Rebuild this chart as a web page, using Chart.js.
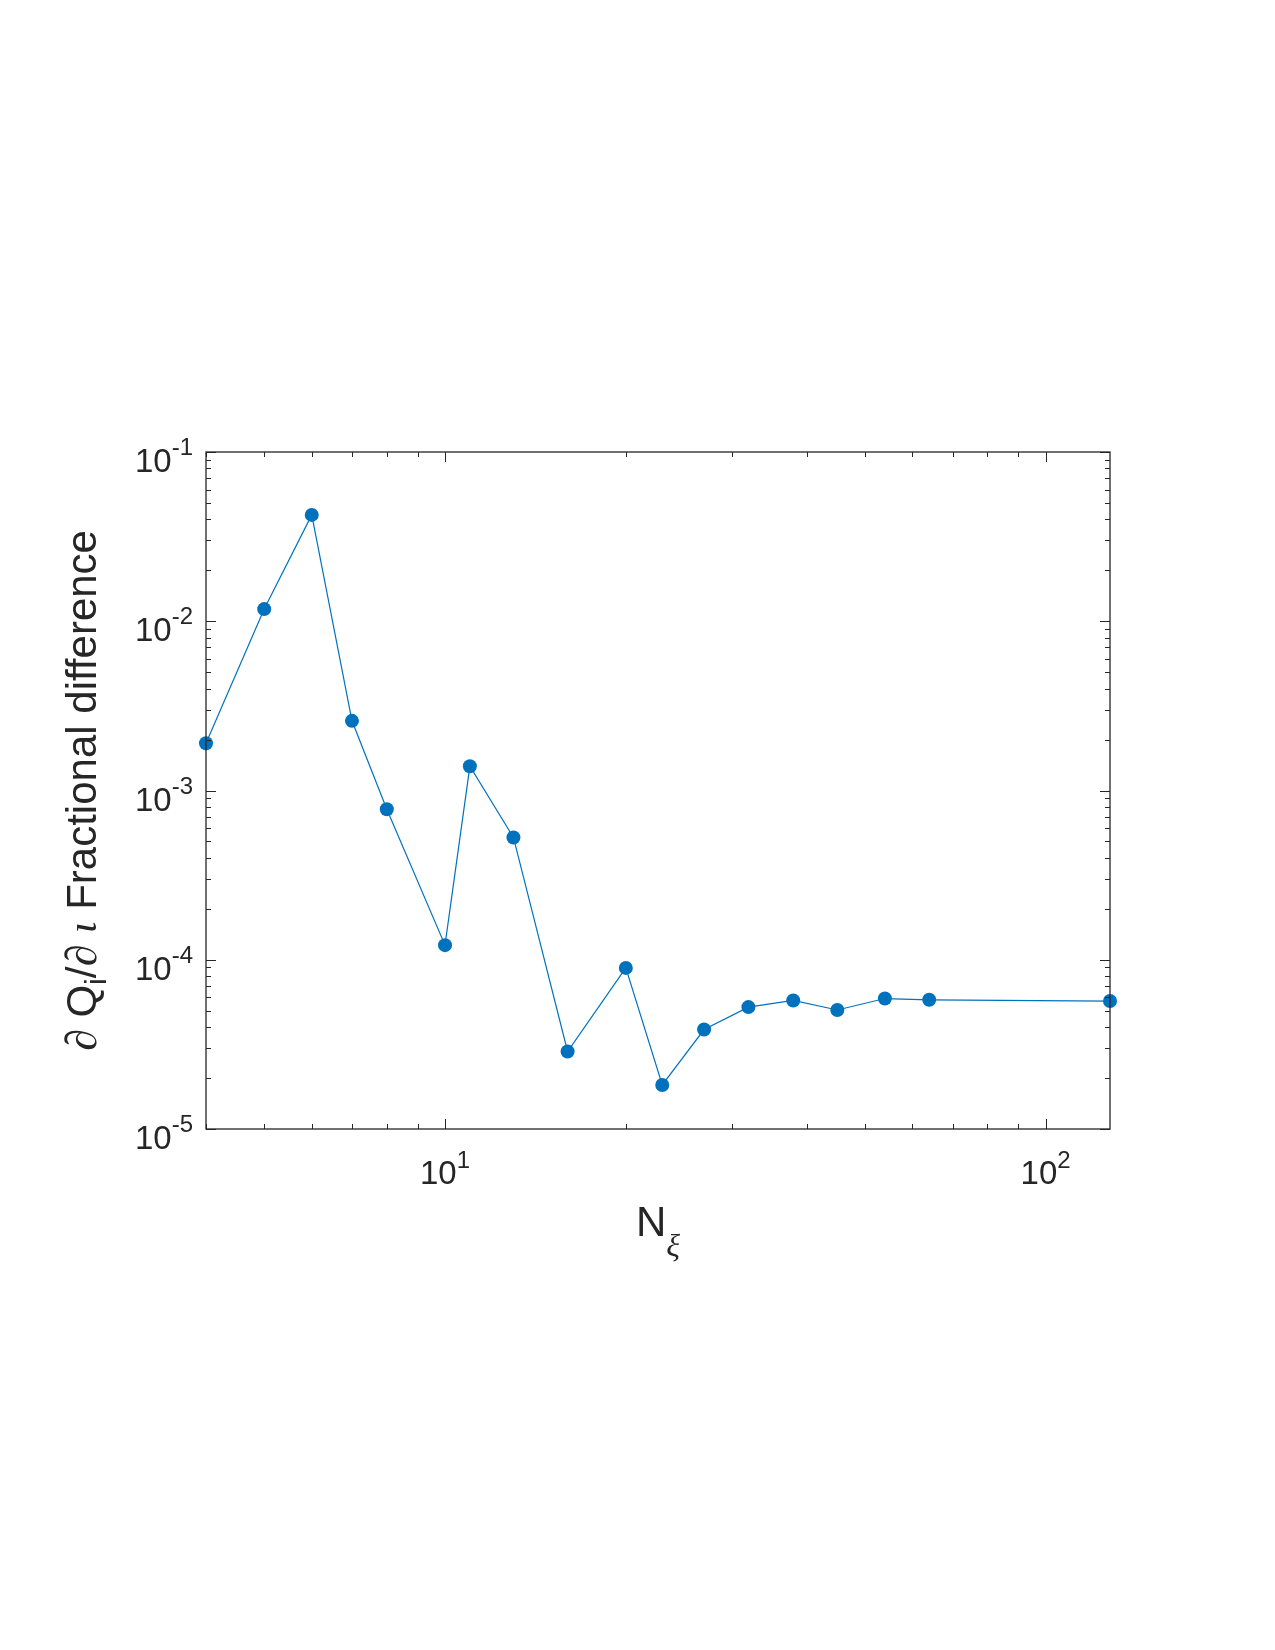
<!DOCTYPE html>
<html>
<head>
<meta charset="utf-8">
<script src="https://cdn.jsdelivr.net/npm/chart.js@4.4.1/dist/chart.umd.min.js"></script>
<style>
  html, body { margin: 0; padding: 0; background: #fff; }
  canvas { display: block; }
</style>
</head>
<body>
<canvas id="convChart" width="1275" height="1650"></canvas>
<script>
// number of xi grid points and the fractional difference in dQ/d(iota)
const nXi = [4, 5, 6, 7, 8, 10, 11, 13, 16, 20, 23, 27, 32, 38, 45, 54, 64, 128];
const fracDiff = [1.90e-3, 1.18e-2, 4.25e-2, 2.58e-3, 7.75e-4, 1.22e-4, 1.39e-3, 5.28e-4, 2.87e-5,
  8.95e-5, 1.82e-5, 3.87e-5, 5.25e-5, 5.75e-5, 5.05e-5, 5.9e-5, 5.8e-5, 5.7e-5];

const xRange = [4, 128];
const yRange = [1e-5, 1e-1];
const xTickExps = [1, 2];
const yTickExps = [-5, -4, -3, -2, -1];

const SANS = '"Liberation Sans", Arial, Helvetica, sans-serif';
const SERIF = '"Liberation Serif", "DejaVu Serif", serif';
const AXIS_COLOR = '#262626';

// log minor tick values between lo and hi
const logTicks = (lo, hi) => {
  const out = [];
  for (let d = Math.floor(Math.log10(lo)); d <= Math.ceil(Math.log10(hi)); d++) {
    for (let m = 1; m <= 9; m++) {
      const v = m * Math.pow(10, d);
      if (v >= lo * 0.9999 && v <= hi * 1.0001) out.push({ v, major: m === 1 });
    }
  }
  return out;
}

// draw a list of [text, font, dy] pieces starting at x, returns end x
const drawPieces = (ctx, pieces, x, y) => {
  pieces.forEach(p => {
    ctx.font = p[1];
    ctx.fillText(p[0], x, y + (p[2] || 0));
    x += ctx.measureText(p[0]).width;
  });
  return x;
}

const piecesWidth = (ctx, pieces) => {
  let w = 0;
  pieces.forEach(p => {
    ctx.font = p[1];
    w += ctx.measureText(p[0]).width;
  });
  return w;
}

const matlabAxes = {
  id: 'matlabAxes',
  afterDraw(chart) {
    const ctx = chart.ctx;
    const { left, right, top, bottom } = chart.chartArea;
    const xs = chart.scales.x;
    const ys = chart.scales.y;
    ctx.save();

    // ticks, inward on all four sides
    ctx.strokeStyle = AXIS_COLOR;
    ctx.lineWidth = 1;
    ctx.beginPath();
    logTicks(xRange[0], xRange[1]).forEach(t => {
      const px = Math.round(xs.getPixelForValue(t.v)) + 0.5;
      const len = t.major ? 10 : 5;
      ctx.moveTo(px, bottom); ctx.lineTo(px, bottom - len);
      ctx.moveTo(px, top); ctx.lineTo(px, top + len);
    });
    logTicks(yRange[0], yRange[1]).forEach(t => {
      const py = Math.round(ys.getPixelForValue(t.v)) + 0.5;
      const len = t.major ? 10 : 5;
      ctx.moveTo(left, py); ctx.lineTo(left + len, py);
      ctx.moveTo(right, py); ctx.lineTo(right - len, py);
    });
    ctx.stroke();

    // box
    ctx.lineWidth = 1.3;
    ctx.strokeRect(left, top, right - left, bottom - top);

    ctx.fillStyle = '#262626';
    ctx.textAlign = 'left';
    ctx.textBaseline = 'alphabetic';
    const baseFont = '33px ' + SANS;
    const expFont = '24px ' + SANS;

    // x tick labels
    xTickExps.forEach(e => {
      const px = xs.getPixelForValue(Math.pow(10, e));
      const pieces = [['10', baseFont, 0], [String(e), expFont, -16]];
      const w = piecesWidth(ctx, pieces);
      drawPieces(ctx, pieces, px - w / 2, bottom + 55);
    });

    // y tick labels
    yTickExps.forEach(e => {
      const py = ys.getPixelForValue(Math.pow(10, e));
      const pieces = [['10', baseFont, 0], [String(e), expFont, -17]];
      const w = piecesWidth(ctx, pieces);
      drawPieces(ctx, pieces, left - 13 - w, py + 20);
    });

    // x axis title: N_xi
    const xTitle = [['N', '42px ' + SANS, 0], ['\u03BE', 'italic 32px ' + SERIF, 20]];
    const xw = piecesWidth(ctx, xTitle);
    drawPieces(ctx, xTitle, (left + right) / 2 - xw / 2, bottom + 107);

    // y axis title
    const yTitle = [
      ['\u2202', 'italic 44px ' + SERIF, 0],
      [' Q', '42px ' + SANS, 0],
      ['i', '30px ' + SANS, 10],
      ['/', '42px ' + SANS, 0],
      ['\u2202', 'italic 44px ' + SERIF, 0],
      [' ', '42px ' + SANS, 0],
      ['\u03B9', 'italic 42px ' + SERIF, 0],
      [' Fractional difference', '42px ' + SANS, 0]
    ];
    const yw = piecesWidth(ctx, yTitle);
    ctx.translate(96, (top + bottom) / 2);
    ctx.rotate(-Math.PI / 2);
    drawPieces(ctx, yTitle, -yw / 2, 0);

    ctx.restore();
  }
};

const chartEl = document.getElementById('convChart');

const convCht = new Chart(chartEl, {
  type: 'line',
  data: {
    datasets: [{
      label: 'Fractional difference',
      data: nXi.map((n, i) => ({ x: n, y: fracDiff[i] })),
      borderColor: '#0072BD',
      backgroundColor: '#0072BD',
      borderWidth: 1.2,
      pointRadius: 7,
      pointBorderWidth: 0,
      pointHoverRadius: 7,
      tension: 0,
      clip: false,
    }]
  },
  options: {
    responsive: false,
    animation: false,
    devicePixelRatio: 1,
    layout: {
      padding: { left: 206, right: 165, top: 452, bottom: 521 }
    },
    scales: {
      x: {
        type: 'logarithmic',
        min: xRange[0],
        max: xRange[1],
        grid: { display: false },
        border: { display: false },
        ticks: { display: false },
        afterFit: (scale) => { scale.height = 0; },
      },
      y: {
        type: 'logarithmic',
        min: yRange[0],
        max: yRange[1],
        grid: { display: false },
        border: { display: false },
        ticks: { display: false },
        afterFit: (scale) => { scale.width = 0; },
      }
    },
    plugins: {
      legend: { display: false },
      tooltip: { enabled: false },
    }
  },
  plugins: [matlabAxes]
});
</script>
</body>
</html>
